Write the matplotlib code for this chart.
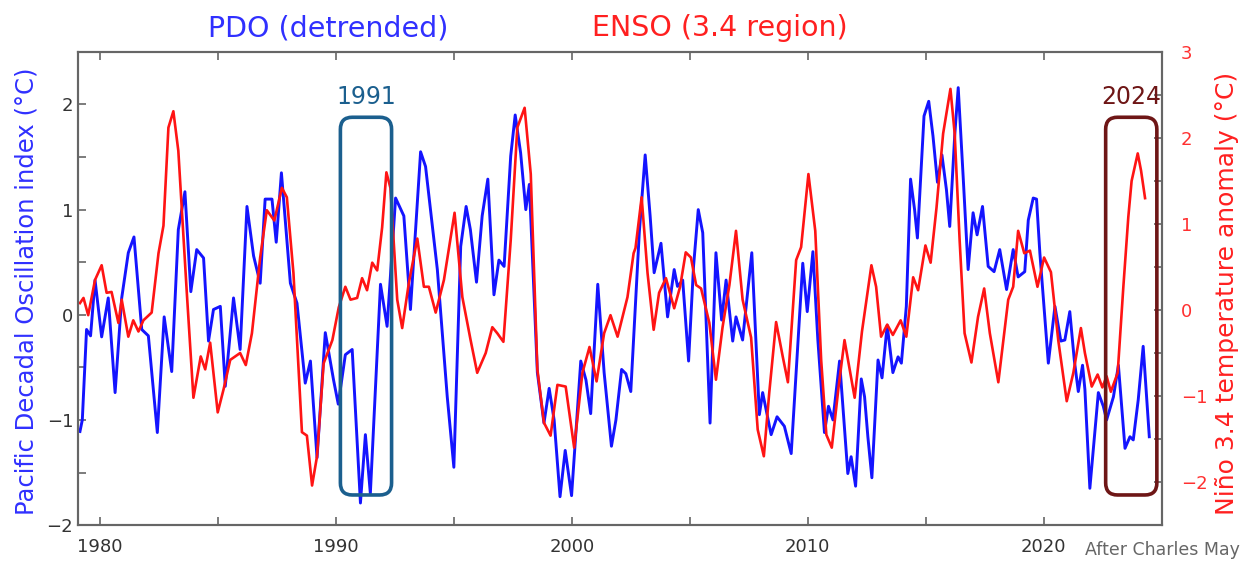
import matplotlib
matplotlib.use("Agg")
import matplotlib.pyplot as plt
from matplotlib.patches import FancyBboxPatch
from matplotlib.ticker import MultipleLocator

# PDO (detrended)
pdo_year = [1979.15, 1979.25, 1979.43, 1979.6, 1979.79, 1980.07, 1980.35, 1980.64, 1980.92, 1981.2,
            1981.44, 1981.77, 1982.05, 1982.43, 1982.72, 1983.04, 1983.32, 1983.6, 1983.85, 1984.1,
            1984.39, 1984.6, 1984.81, 1985.1, 1985.31, 1985.66, 1985.94, 1986.23, 1986.51, 1986.79,
            1987.0, 1987.29, 1987.47, 1987.69, 1988.07, 1988.35, 1988.7, 1988.92, 1989.2, 1989.55,
            1989.9, 1990.1, 1990.4, 1990.69, 1991.04, 1991.25, 1991.46, 1991.89, 1992.17, 1992.53,
            1992.88, 1993.16, 1993.59, 1993.8, 1994.3, 1994.72, 1995.0, 1995.29, 1995.52, 1995.7,
            1995.96, 1996.2, 1996.44, 1996.7, 1996.91, 1997.13, 1997.41, 1997.6, 1997.83, 1998.05,
            1998.2, 1998.54, 1998.82, 1999.04, 1999.25, 1999.5, 1999.72, 1999.99, 2000.38, 2000.6,
            2000.8, 2001.1, 2001.37, 2001.68, 2001.87, 2002.11, 2002.29, 2002.5, 2002.86, 2003.11,
            2003.32, 2003.49, 2003.78, 2004.06, 2004.34, 2004.48, 2004.7, 2004.95, 2005.16, 2005.36,
            2005.55, 2005.86, 2006.11, 2006.35, 2006.54, 2006.82, 2006.96, 2007.24, 2007.63, 2007.95,
            2008.09, 2008.45, 2008.7, 2009.01, 2009.3, 2009.79, 2009.98, 2010.22, 2010.43, 2010.71,
            2010.88, 2011.07, 2011.35, 2011.7, 2011.84, 2012.03, 2012.27, 2012.41, 2012.55, 2012.72,
            2012.98, 2013.15, 2013.37, 2013.61, 2013.83, 2013.97, 2014.18, 2014.36, 2014.53, 2014.65,
            2014.93, 2015.13, 2015.31, 2015.5, 2015.69, 2015.88, 2016.02, 2016.23, 2016.38, 2016.59,
            2016.8, 2017.01, 2017.18, 2017.41, 2017.65, 2017.9, 2018.14, 2018.43, 2018.71, 2018.92,
            2019.2, 2019.35, 2019.56, 2019.7, 2019.84, 2020.2, 2020.48, 2020.73, 2020.9, 2021.11,
            2021.3, 2021.47, 2021.65, 2021.75, 2021.96, 2022.32, 2022.53, 2022.67, 2022.96, 2023.17,
            2023.45, 2023.66, 2023.8, 2024.01, 2024.22, 2024.48]
pdo_val = [-1.11, -1.0, -0.14, -0.2, 0.33, -0.21, 0.16, -0.74, 0.16, 0.59,
           0.74, -0.14, -0.2, -1.12, -0.02, -0.54, 0.81, 1.17, 0.22, 0.62,
           0.54, -0.25, 0.05, 0.08, -0.68, 0.16, -0.33, 1.03, 0.56, 0.3,
           1.1, 1.1, 0.69, 1.35, 0.3, 0.11, -0.65, -0.44, -1.36, -0.17,
           -0.62, -0.85, -0.38, -0.33, -1.79, -1.14, -1.7, 0.29, -0.11, 1.11,
           0.94, 0.05, 1.55, 1.41, 0.43, -0.78, -1.45, 0.65, 1.03, 0.81,
           0.31, 0.94, 1.29, 0.19, 0.52, 0.46, 1.51, 1.9, 1.54, 1.0,
           1.24, -0.55, -1.03, -0.7, -1.0, -1.73, -1.29, -1.72, -0.44, -0.62,
           -0.94, 0.29, -0.55, -1.25, -1.0, -0.52, -0.56, -0.73, 0.78, 1.52,
           0.94, 0.4, 0.68, -0.02, 0.43, 0.27, 0.33, -0.44, 0.46, 1.0,
           0.78, -1.03, 0.59, -0.05, 0.33, -0.25, -0.02, -0.24, 0.59, -0.95,
           -0.74, -1.14, -0.97, -1.06, -1.32, 0.49, 0.03, 0.6, -0.24, -1.12,
           -0.87, -1.0, -0.44, -1.51, -1.35, -1.63, -0.61, -0.78, -1.16, -1.55,
           -0.43, -0.6, -0.1, -0.55, -0.4, -0.46, 0.08, 1.29, 1.0, 0.73,
           1.89, 2.03, 1.7, 1.26, 1.52, 1.19, 0.84, 1.7, 2.16, 1.31,
           0.43, 0.97, 0.76, 1.03, 0.46, 0.41, 0.62, 0.24, 0.62, 0.36,
           0.41, 0.9, 1.11, 1.1, 0.59, -0.46, 0.08, -0.25, -0.24, 0.03,
           -0.43, -0.73, -0.48, -0.71, -1.65, -0.74, -0.87, -1.0, -0.78, -0.48,
           -1.27, -1.16, -1.19, -0.81, -0.3, -1.16]

# Nino 3.4 anomaly (deg C)
enso_year = [1979.15, 1979.3, 1979.5, 1979.79, 1980.07, 1980.28, 1980.49, 1980.78, 1980.92, 1981.2,
             1981.41, 1981.63, 1981.84, 1982.19, 1982.48, 1982.69, 1982.9, 1983.11, 1983.32, 1983.68,
             1983.96, 1984.27, 1984.46, 1984.67, 1984.99, 1985.24, 1985.52, 1985.94, 1986.18, 1986.44,
             1986.79, 1987.07, 1987.39, 1987.71, 1987.92, 1988.2, 1988.56, 1988.77, 1988.99, 1989.2,
             1989.48, 1989.85, 1990.12, 1990.4, 1990.62, 1990.9, 1991.11, 1991.32, 1991.54, 1991.75,
             1991.96, 1992.14, 1992.31, 1992.6, 1992.81, 1993.09, 1993.45, 1993.73, 1993.94, 1994.23,
             1994.58, 1995.03, 1995.36, 1995.71, 1995.99, 1996.35, 1996.63, 1996.84, 1997.1, 1997.41,
             1997.69, 1998.0, 1998.26, 1998.54, 1998.82, 1999.1, 1999.39, 1999.74, 2000.1, 2000.45,
             2000.75, 2001.05, 2001.37, 2001.64, 2001.94, 2002.22, 2002.36, 2002.62, 2002.7, 2002.96,
             2003.21, 2003.47, 2003.7, 2003.99, 2004.34, 2004.59, 2004.83, 2005.05, 2005.27, 2005.48,
             2005.83, 2006.11, 2006.39, 2006.68, 2006.96, 2007.24, 2007.6, 2007.88, 2008.14, 2008.37,
             2008.66, 2008.94, 2009.16, 2009.51, 2009.72, 2010.03, 2010.32, 2010.57, 2010.79, 2011.02,
             2011.31, 2011.56, 2011.99, 2012.3, 2012.7, 2012.9, 2013.11, 2013.37, 2013.61, 2013.94,
             2014.18, 2014.47, 2014.68, 2014.99, 2015.21, 2015.46, 2015.74, 2016.05, 2016.23, 2016.44,
             2016.65, 2016.94, 2017.22, 2017.48, 2017.72, 2018.08, 2018.5, 2018.71, 2018.92, 2019.18,
             2019.42, 2019.74, 2020.02, 2020.31, 2020.62, 2020.98, 2021.26, 2021.58, 2021.75, 2022.04,
             2022.29, 2022.49, 2022.67, 2022.85, 2023.14, 2023.38, 2023.59, 2023.73, 2023.99, 2024.13,
             2024.3]
enso_val = [0.08, 0.14, -0.06, 0.35, 0.52, 0.2, 0.21, -0.15, 0.12, -0.31,
            -0.12, -0.25, -0.12, -0.03, 0.66, 0.98, 2.12, 2.31, 1.85, 0.2,
            -1.02, -0.54, -0.69, -0.38, -1.19, -0.92, -0.58, -0.5, -0.64, -0.27,
            0.61, 1.16, 1.04, 1.42, 1.31, 0.43, -1.42, -1.46, -2.04, -1.7,
            -0.62, -0.35, 0.03, 0.27, 0.12, 0.14, 0.37, 0.23, 0.55, 0.46,
            0.96, 1.6, 1.42, 0.12, -0.21, 0.31, 0.83, 0.27, 0.27, -0.03,
            0.35, 1.13, 0.15, -0.35, -0.73, -0.5, -0.2, -0.27, -0.37, 0.81,
            2.12, 2.35, 1.58, -0.69, -1.31, -1.46, -0.87, -0.89, -1.6, -0.73,
            -0.43, -0.83, -0.27, -0.06, -0.31, 0.0, 0.15, 0.66, 0.72, 1.31,
            0.43, -0.23, 0.2, 0.37, 0.02, 0.27, 0.67, 0.61, 0.29, 0.25,
            -0.15, -0.81, -0.2, 0.29, 0.92, 0.12, -0.32, -1.39, -1.7, -0.96,
            -0.14, -0.54, -0.84, 0.58, 0.73, 1.58, 0.92, -0.58, -1.45, -1.6,
            -0.89, -0.35, -1.02, -0.25, 0.52, 0.27, -0.31, -0.17, -0.29, -0.12,
            -0.31, 0.38, 0.23, 0.75, 0.55, 1.19, 2.05, 2.57, 2.05, 0.81,
            -0.27, -0.61, -0.08, 0.25, -0.27, -0.84, 0.12, 0.27, 0.92, 0.66,
            0.69, 0.27, 0.61, 0.44, -0.35, -1.06, -0.73, -0.21, -0.5, -0.89,
            -0.75, -0.9, -0.77, -0.95, -0.73, 0.27, 1.08, 1.5, 1.82, 1.62,
            1.3]

highlight_years = ["1991", "2024"]
highlight_spans = [(1990.19, 1992.36), (2022.63, 2024.8)]
highlight_colors = ["#1b5f8e", "#6e1616"]

GRAY = "#666666"


def main():
    fig = plt.figure(figsize=(12.49, 5.64), dpi=100)
    ax = fig.add_axes([0.0625, 0.069, 0.8675, 0.839])
    ax2 = ax.twinx()

    ax.plot(pdo_year, pdo_val, color="#1414ff", lw=2.1)
    ax2.plot(enso_year, enso_val, color="#ff1414", lw=1.9)

    ax.set_xlim(1979.07, 2025.0)
    ax.set_ylim(-2, 2.5)
    ax2.set_ylim(-2.5, 3)

    ax.xaxis.set_major_locator(MultipleLocator(10))
    ax.xaxis.set_minor_locator(MultipleLocator(5))
    ax.yaxis.set_major_locator(MultipleLocator(1))
    ax.yaxis.set_minor_locator(MultipleLocator(0.5))
    ax2.yaxis.set_major_locator(MultipleLocator(1))
    ax2.yaxis.set_minor_locator(MultipleLocator(0.5))

    ax.tick_params(which="both", direction="in", length=6, width=1.2, color=GRAY,
                   top=True, right=False, labelsize=13, labelcolor="#333333")
    ax.tick_params(axis="x", which="both", pad=9)
    ax2.tick_params(which="both", direction="in", length=6, width=1.2, color=GRAY,
                    labelsize=13, labelcolor="#ff3030", pad=14)
    for a in (ax, ax2):
        for s in a.spines.values():
            s.set_color(GRAY)
            s.set_linewidth(1.5)

    # highlight boxes (drawn in right-axis coordinates)
    box_lo, box_hi = -2.15, 2.24
    for label, (x0, x1), col in zip(highlight_years, highlight_spans, highlight_colors):
        box = FancyBboxPatch((x0, box_lo), x1 - x0, box_hi - box_lo,
                             boxstyle="round,pad=0,rounding_size=0.5",
                             mutation_aspect=0.28, fill=False, ec=col, lw=2.6, zorder=5)
        ax2.add_patch(box)
        ax2.text((x0 + x1) / 2, box_hi + 0.1, label, color=col, fontsize=17,
                 ha="center", va="bottom")

    fig.text(0.2626, 0.950, "PDO (detrended)", color="#3030ff", fontsize=20.5,
             ha="center", va="center")
    fig.text(0.5765, 0.950, "ENSO (3.4 region)", color="#ff2020", fontsize=20.5,
             ha="center", va="center")
    fig.text(0.021, 0.484, "Pacific Decadal Oscillation index (°C)", color="#3030ff",
             fontsize=17.5, rotation=90, ha="center", va="center")
    fig.text(0.982, 0.479, "Niño 3.4 temperature anomaly (°C)", color="#ff2020",
             fontsize=18, rotation=90, ha="center", va="center")
    fig.text(0.993, 0.025, "After Charles May", color=GRAY, fontsize=12.5,
             ha="right", va="center")

    fig.savefig("out.png", dpi=100)


if __name__ == '__main__':
    main()
